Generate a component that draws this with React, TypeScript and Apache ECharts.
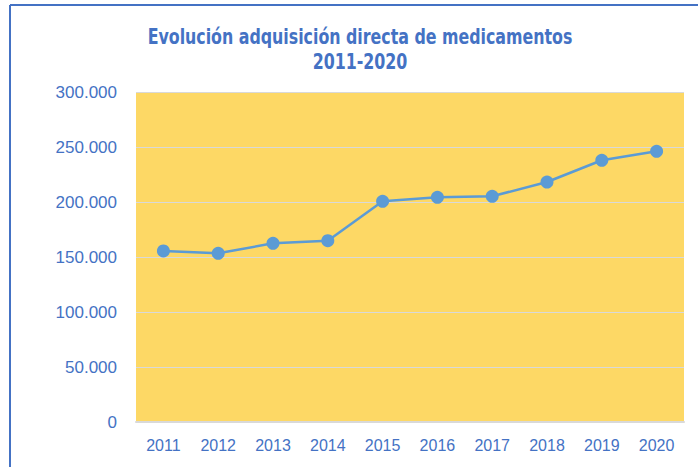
import React, { useEffect, useRef } from "react";
import * as echarts from "echarts";

const years = ["2011", "2012", "2013", "2014", "2015", "2016", "2017", "2018", "2019", "2020"];
const values = [155700, 153600, 162700, 165100, 200900, 204600, 205500, 218500, 238300, 246500];
const titleLine1 = "Evolución adquisición directa de medicamentos";
const titleLine2 = "2011-2020";

const BLUE_TEXT = "#4472C4";
const TITLE_FONT = "bold 22px 'DejaVu Sans Condensed', 'DejaVu Sans', sans-serif";

function fmt(v: number): string {
  return String(Math.round(v)).replace(/\B(?=(\d{3})+(?!\d))/g, ".");
}

export default function App() {
  const ref = useRef<HTMLDivElement>(null);
  useEffect(() => {
    if (!ref.current) return;
    const chart = echarts.init(ref.current, undefined, { renderer: "svg" });
    chart.setOption({
      animation: false,
      backgroundColor: "#ffffff",
      grid: {
        left: 136,
        right: 14,
        top: 92.5,
        bottom: 45,
        show: true,
        backgroundColor: "#FDD865",
        borderWidth: 0,
      },
      graphic: [
        {
          type: "line",
          shape: { x1: 10, y1: 5, x2: 698, y2: 5 },
          style: { stroke: "#4472C4", lineWidth: 2 },
        },
        {
          type: "line",
          shape: { x1: 10, y1: 5, x2: 10, y2: 467 },
          style: { stroke: "#4472C4", lineWidth: 2 },
        },
        {
          type: "text",
          x: 360,
          y: 37,
          scaleX: 0.8,
          style: {
            text: titleLine1,
            textAlign: "center",
            textVerticalAlign: "middle",
            fill: BLUE_TEXT,
            font: TITLE_FONT,
          },
        },
        {
          type: "text",
          x: 360,
          y: 62,
          scaleX: 0.8,
          style: {
            text: titleLine2,
            textAlign: "center",
            textVerticalAlign: "middle",
            fill: BLUE_TEXT,
            font: TITLE_FONT,
          },
        },
      ],
      xAxis: {
        type: "category",
        data: years,
        boundaryGap: true,
        axisLine: { show: true, lineStyle: { color: "#D9D9D9", width: 2 } },
        axisTick: { show: false },
        axisLabel: {
          color: BLUE_TEXT,
          fontSize: 16,
          fontFamily: "'Liberation Sans', sans-serif",
          margin: 15,
        },
        splitLine: { show: false },
      },
      yAxis: {
        type: "value",
        min: 0,
        max: 300000,
        interval: 50000,
        axisLine: { show: false },
        axisTick: { show: false },
        axisLabel: {
          color: BLUE_TEXT,
          fontSize: 17,
          fontFamily: "'Liberation Sans', sans-serif",
          margin: 19,
          formatter: (v: number) => fmt(v),
        },
        splitLine: { show: true, lineStyle: { color: "#D9D9D9", width: 1 } },
      },
      series: [
        {
          type: "line",
          data: values,
          symbol: "circle",
          symbolSize: 13,
          lineStyle: { color: "#5B9BD5", width: 2.5 },
          itemStyle: { color: "#5B9BD5" },
        },
      ],
    });
    return () => chart.dispose();
  }, []);
  return (
    <div
      ref={ref}
      style={{ position: "fixed", left: 0, top: 0, width: 698, height: 467 }}
    />
  );
}
